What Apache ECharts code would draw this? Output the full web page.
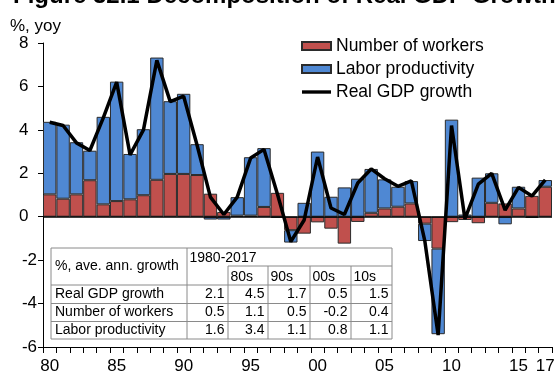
<!DOCTYPE html>
<html>
<head>
<meta charset="utf-8">
<script src="https://cdn.jsdelivr.net/npm/echarts@6/dist/echarts.min.js"></script>
<style>
html,body{margin:0;padding:0;background:#fff;}
#chart{width:555px;height:372px;}
</style>
</head>
<body>
<div id="chart"></div>
<script>
// ---- data ----
var years = ['80','81','82','83','84','85','86','87','88','89',
             '90','91','92','93','94','95','96','97','98','99',
             '00','01','02','03','04','05','06','07','08','09',
             '10','11','12','13','14','15','16','17'];
var shownYearLabels = ['80','85','90','95','00','05','10','15','17'];
var workers = [1.03,0.83,1.03,1.68,0.57,0.72,0.80,0.99,1.70,1.97,
               1.97,1.92,1.06,0.22,0.05,0.05,0.45,1.10,-0.62,-0.78,
               -0.26,-0.55,-1.24,-0.24,0.18,0.38,0.46,0.61,-0.32,-1.47,
               -0.25,-0.15,-0.30,0.64,0.61,0.38,0.96,1.38];
var productivity = [3.34,3.41,2.40,1.36,4.03,5.50,2.09,3.04,5.63,3.35,
                    3.69,1.42,-0.13,-0.13,0.85,2.69,2.71,-0.05,-0.57,0.64,
                    3.00,0.92,1.35,1.75,2.02,1.34,0.92,1.03,-0.80,-3.94,
                    4.47,0.10,1.80,1.36,-0.35,1.00,-0.05,0.31];
var gdp = [4.35,4.20,3.40,3.05,4.55,6.20,2.85,4.00,7.20,5.30,
           5.55,3.30,0.90,0.10,0.90,2.70,3.10,1.05,-1.15,-0.15,
           2.75,0.40,0.10,1.55,2.20,1.75,1.40,1.65,-1.10,-5.45,
           4.20,-0.10,1.50,2.00,0.30,1.35,0.95,1.70];
var yTicks = [-6,-4,-2,0,2,4,6,8];
var seriesNames = ['Number of workers','Labor productivity','Real GDP growth'];
var tableCorner = '%, ave. ann. growth';
var tablePeriod = '1980-2017';
var tableDecades = ['80s','90s','00s','10s'];
var tableRowNames = ['Real GDP growth','Number of workers','Labor productivity'];
var tableValues = [[2.1,4.5,1.7,0.5,1.5],
                   [0.5,1.1,0.5,-0.2,0.4],
                   [1.6,3.4,1.1,0.8,1.1]];
var titleText = 'Figure 32.1 Decomposition of Real GDP Growth';
var yUnit = '%, yoy';

// ---- chart ----
var FONT = 'Liberation Sans, Arial, sans-serif';
var chart = echarts.init(document.getElementById('chart'), null, {renderer:'canvas'});

// table graphic
var tL = 51, tT = 248, tB = 339;
var colX = [51, 187, 228, 268, 310, 351, 392];
var rowY = [248, 266, 285, 303.5, 321.5, 339];
var lineColor = '#8a8a8a';
var g = [];
g.push({type:'rect', shape:{x:tL, y:tT, width:colX[6]-tL, height:tB-tT},
        style:{fill:'#fff', stroke:lineColor, lineWidth:1}, z:100});
function hline(x1,x2,y){ g.push({type:'line', shape:{x1:x1,y1:y,x2:x2,y2:y}, style:{stroke:lineColor,lineWidth:1}, z:101}); }
function vline(x,y1,y2){ g.push({type:'line', shape:{x1:x,y1:y1,x2:x,y2:y2}, style:{stroke:lineColor,lineWidth:1}, z:101}); }
hline(colX[2], colX[6], rowY[1]);
hline(tL, colX[6], rowY[2]);
hline(tL, colX[6], rowY[3]);
hline(tL, colX[6], rowY[4]);
vline(colX[1], tT, tB);
for (var c = 2; c <= 5; c++) vline(colX[c], rowY[1], tB);
function txt(s, x, y, align){
  g.push({type:'text', x:x, y:y, z:102,
          style:{text:s, font:'14px ' + FONT, fill:'#000', align:align||'left', verticalAlign:'middle'}});
}
txt(tableCorner, 55, 266.5);
txt(tablePeriod, 189.5, 258.5);
for (var d = 0; d < tableDecades.length; d++) txt(tableDecades[d], colX[d+2] + 2.5, 277);
for (var r = 0; r < tableRowNames.length; r++) {
  var cy = (rowY[r+2] + rowY[r+3]) / 2;
  txt(tableRowNames[r], 55, cy);
  for (var k = 0; k < tableValues[r].length; k++) {
    txt(tableValues[r][k].toFixed(1), colX[k+2] - 3.5, cy, 'right');
  }
}
// title (clipped at top) and y unit
g.push({type:'text', x:13, y:8, z:102,
        style:{text:titleText, font:'bold 24px ' + FONT, fill:'#000', align:'left', verticalAlign:'bottom'}});
g.push({type:'text', x:10, y:26, z:102,
        style:{text:yUnit, font:'17px ' + FONT, fill:'#000', align:'left', verticalAlign:'middle'}});

var option = {
  animation:false,
  backgroundColor:'#fff',
  textStyle:{fontFamily:FONT},
  grid:{left:43, right:3, top:43, bottom:25, containLabel:false, outerBoundsMode:'none'},
  legend:{
    orient:'vertical', left:301, top:37, padding:0, itemWidth:29, itemHeight:8, itemGap:5,
    textStyle:{fontSize:17.5, color:'#000', fontFamily:FONT},
    data:[
      {name:seriesNames[0], icon:'rect'},
      {name:seriesNames[1], icon:'rect'},
      {name:seriesNames[2], icon:'path://M0,0H30V3.5H0Z'}
    ]
  },
  xAxis:{
    type:'category', data:years, position:'bottom',
    axisLine:{onZero:false, lineStyle:{color:'#000', width:1}},
    axisTick:{show:true, interval:0, length:6, lineStyle:{color:'#000'}},
    axisLabel:{
      interval:function(i, v){ return shownYearLabels.indexOf(v) >= 0; },
      fontSize:17, color:'#000', margin:11, fontFamily:FONT
    },
    splitLine:{show:false}
  },
  yAxis:{
    type:'value', min:yTicks[0], max:yTicks[yTicks.length-1], interval:2,
    axisLine:{show:true, lineStyle:{color:'#000', width:1}},
    axisTick:{show:true, length:5, lineStyle:{color:'#000'}},
    splitLine:{show:false},
    axisLabel:{
      margin:6, color:'#000', fontSize:17, fontFamily:FONT,
      formatter:function(v){ return v < 0 ? '{n|' + v + '}' : '{p|' + v + '}'; },
      rich:{
        n:{fontSize:17, color:'#000', fontFamily:FONT},
        p:{fontSize:17, color:'#000', fontFamily:FONT, padding:[0,8.5,0,0]}
      }
    }
  },
  series:[
    {
      name:seriesNames[0], type:'bar', stack:'g', data:workers,
      barWidth:'100%', barCategoryGap:'0%',
      itemStyle:{color:'#C0504D', borderColor:'#2b2b2b', borderWidth:1},
      markLine:{
        silent:true, symbol:['none','none'], label:{show:false},
        lineStyle:{color:'#000', width:1.5, type:'solid'},
        data:[{yAxis:0}]
      }
    },
    {
      name:seriesNames[1], type:'bar', stack:'g', data:productivity,
      barWidth:'100%', barCategoryGap:'0%',
      itemStyle:{color:'#4F88D3', borderColor:'#2b2b2b', borderWidth:1}
    },
    {
      name:seriesNames[2], type:'line', data:gdp, symbol:'none', showSymbol:false,
      lineStyle:{color:'#000', width:3.5}, itemStyle:{color:'#000'}, z:5
    }
  ],
  graphic:g
};
chart.setOption(option);
</script>
</body>
</html>
